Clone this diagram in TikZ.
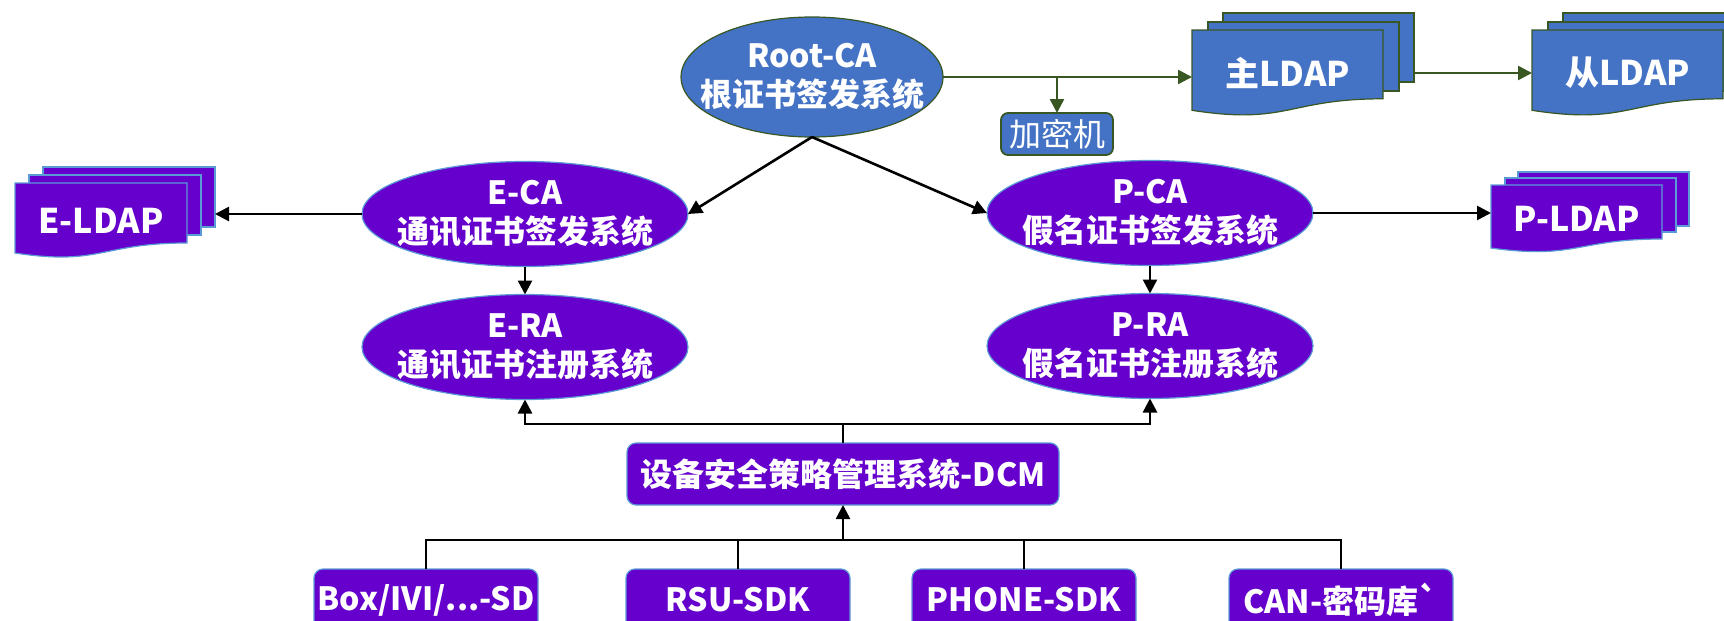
\documentclass[tikz,border=0pt]{standalone}
\usepackage{fontspec}
\setmainfont{Noto Sans CJK SC}[Ligatures=TeXOff]
\usetikzlibrary{shapes.geometric, arrows.meta, calc, backgrounds}

\definecolor{syspurple}{RGB}{102,0,204}
\definecolor{sysblue}{RGB}{68,114,196}
\definecolor{sysgreen}{RGB}{56,87,35}
\definecolor{sysedge}{RGB}{91,155,213}

% stack of three document pages behind the front page node #1
% #2 style, #3 shift of 2nd page, #4 shift of 3rd page, #5 width, #6 height
\newcommand{\docstack}[6]{%
  \node[#2, minimum width=#5, minimum height=#6, anchor=north west] (#1c) at ([shift={#4}]#1.north west) {};
  \node[#2, minimum width=#5, minimum height=#6, anchor=north west] (#1b) at ([shift={#3}]#1.north west) {};
  \draw[#2] (#1.north west) -- (#1.north east) -- ($(#1.north east)!0.8!(#1.south east)$)
    .. controls ($(#1.north)!0.8!(#1.south)$) and ($(#1.north)!1.107!(#1.south)$)
    .. ($(#1.north west)!0.934!(#1.south west)$) -- cycle;
}

\begin{document}
\begin{tikzpicture}[x=1pt, y=-1pt,
    every node/.style={text=white, align=center, inner sep=0pt, outer sep=0pt,
      font=\fontsize{32}{39}\selectfont\bfseries},
    rootca/.style={ellipse, draw=sysgreen, line width=1.2pt, fill=sysblue,
      inner xsep=-60pt, inner ysep=-20pt, minimum width=262, minimum height=120},
    casys/.style={ellipse, draw=sysedge, line width=1.2pt, fill=syspurple,
      inner xsep=-60pt, inner ysep=-20pt, minimum width=326, minimum height=105},
    sysbox/.style={rectangle, rounded corners=9pt, draw=sysedge, line width=1.2pt, fill=syspurple,
      minimum height=62},
    sdkbox/.style={sysbox, minimum width=224},
    hsmbox/.style={rectangle, rounded corners=7pt, draw=sysgreen, line width=1.8pt, fill=sysblue,
      minimum width=112, minimum height=42, font=\fontsize{32}{38}\selectfont\mdseries},
    ldap/.style={rectangle, font=\fontsize{34}{40}\selectfont\bfseries},
    purplepage/.style={rectangle, draw=sysedge, line width=1.2pt, fill=syspurple},
    bluepage/.style={rectangle, draw=sysgreen, line width=1.2pt, fill=sysblue},
    arr/.style={-{Triangle[width=14pt,length=14pt]}, line width=2.6pt},
    garr/.style={-{Triangle[width=14pt,length=14pt]}, line width=2.5pt, draw=sysgreen},
    bus/.style={line width=2.6pt}]

    \useasboundingbox (0,0) rectangle (1724,621);

    \node[rootca] (root) at (812,77) {Root-CA\\根证书签发系统};
    \node[hsmbox] (hsm) at (1057,134) {加密机};

    \node[casys] (eca) at (525,214) {E-CA\\通讯证书签发系统};
    \node[casys] (era) at (525,347) {E-RA\\通讯证书注册系统};
    \node[casys] (pca) at (1150,213) {P-CA\\假名证书签发系统};
    \node[casys] (pra) at (1150,346) {P-RA\\假名证书注册系统};

    \node[sysbox, minimum width=432] (dcm) at (843,474) {设备安全策略管理系统-DCM};

    \node[sdkbox] (sd1) at (426,600) {Box/IVI/...-SD};
    \node[sdkbox] (sd2) at (738,600) {RSU-SDK};
    \node[sdkbox] (sd3) at (1024,600) {PHONE-SDK};
    \node[sdkbox] (sd4) at (1341,600) {CAN-密码库`};

    % ldap front pages
    \node[ldap, minimum width=172, minimum height=75] (eldap) at (101,220.5) {E-LDAP};
    \node[ldap, minimum width=171, minimum height=67.5] (pldap) at (1576.5,218.75) {P-LDAP};
    \node[ldap, minimum width=191, minimum height=86] (zldap) at (1287.5,73) {主LDAP};
    \node[ldap, minimum width=191, minimum height=86] (cldap) at (1627.5,73) {从LDAP};

    \begin{scope}[on background layer]
        \docstack{eldap}{purplepage}{(14,-8)}{(28,-16)}{172}{60}
        \docstack{pldap}{purplepage}{(14,-7)}{(27,-13)}{171}{54}
        \docstack{zldap}{bluepage}{(16,-8)}{(31,-17)}{191}{69}
        \docstack{cldap}{bluepage}{(16,-8)}{(31,-17)}{191}{69}
    \end{scope}

    \coordinate (upbus) at (843,424);
    \coordinate (lowbus) at (843,540);

    \draw[garr] (root.east) -- (root.east -| zldap.west);
    \draw[garr] (root.east -| hsm.north) -- (hsm.north);
    \draw[garr] (zldapc.east |- cldap.west) -- (cldap.west);

    \draw[arr] (root.south) -- (eca.east);
    \draw[arr] (root.south) -- (pca.west);
    \draw[arr] (eca.west) -- (eca.west -| eldapc.east);
    \draw[arr] (pca.east) -- (pca.east -| pldap.west);
    \draw[arr] (eca.south) -- (era.north);
    \draw[arr] (pca.south) -- (pra.north);

    \draw[arr] (dcm.north) -- (upbus) -| (era.south);
    \draw[arr] (upbus) -| (pra.south);

    \draw[bus] (sd1.north) |- (lowbus) -| (sd4.north);
    \draw[bus] (sd2.north) -- (sd2.north |- lowbus);
    \draw[bus] (sd3.north) -- (sd3.north |- lowbus);
    \draw[arr] (lowbus) -- (dcm.south);
\end{tikzpicture}
\end{document}
